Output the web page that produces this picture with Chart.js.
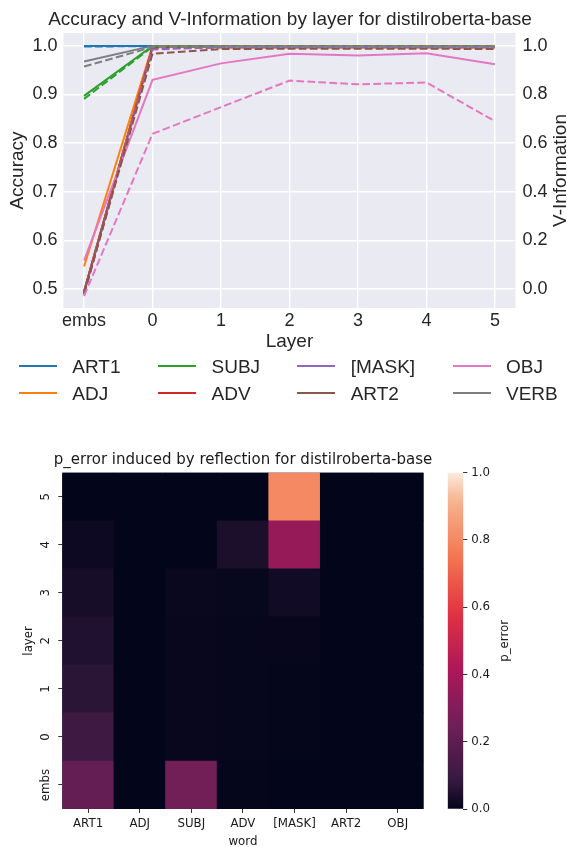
<!DOCTYPE html>
<html>
<head>
<meta charset="utf-8">
<script src="https://cdn.jsdelivr.net/npm/chart.js@4.4.1/dist/chart.umd.min.js"></script>
<style>
html,body{margin:0;padding:0;background:#ffffff;width:567px;height:847px;overflow:hidden;}
#wrap{position:relative;width:567px;height:847px;overflow:hidden;}
canvas{position:absolute;display:block;}
#cTop{left:0;top:0;}
#cHm{left:0;top:440px;}
#cCb{left:440px;top:440px;}
#legend{position:absolute;left:0;top:0;width:567px;height:847px;pointer-events:none;font-family:"Liberation Sans",Arial,sans-serif;font-size:19px;color:#262626;}
.lg-line{position:absolute;height:2px;width:38px;margin-top:-1px;}
.lg-text{position:absolute;white-space:nowrap;line-height:1;transform:translateY(-50%);}
</style>
</head>
<body>
<div id="wrap">
<canvas id="cTop" width="580" height="355"></canvas>
<canvas id="cHm" width="486" height="409"></canvas>
<canvas id="cCb" width="127" height="409"></canvas>
<div id="legend"></div>
</div>
<script>
// ---------------- DATA ----------------
const layers = ['embs', '0', '1', '2', '3', '4', '5'];
const words = ['ART1', 'ADJ', 'SUBJ', 'ADV', '[MASK]', 'ART2', 'OBJ', 'VERB'];

// Accuracy (left axis, solid lines), one value per layer
const accART1 = [1.000, 1.000, 1.000, 1.000, 1.000, 1.000, 1.000];
const accADJ  = [0.546, 1.000, 1.000, 1.000, 1.000, 1.000, 1.000];
const accSUBJ = [0.897, 1.000, 1.000, 1.000, 1.000, 1.000, 1.000];
const accADV  = [0.494, 0.999, 1.000, 1.000, 1.000, 1.000, 1.000];
const accMASK = [0.492, 0.998, 0.999, 0.999, 0.999, 0.999, 0.999];
const accART2 = [0.495, 0.997, 0.999, 0.999, 0.999, 0.999, 0.999];
const accOBJ  = [0.558, 0.930, 0.964, 0.984, 0.980, 0.985, 0.962];
const accVERB = [0.968, 1.000, 1.000, 1.000, 1.000, 1.000, 1.000];

// V-Information (right axis, dashed lines)
const viART1 = [0.997, 0.999, 0.999, 0.999, 0.999, 0.999, 0.999];
const viADJ  = [-0.020, 0.997, 0.998, 0.998, 0.998, 0.998, 0.998];
const viSUBJ = [0.782, 0.996, 0.998, 0.998, 0.998, 0.998, 0.998];
const viADV  = [-0.020, 0.990, 0.993, 0.993, 0.993, 0.993, 0.993];
const viMASK = [-0.025, 0.985, 0.995, 0.995, 0.995, 0.995, 0.995];
const viART2 = [-0.020, 0.968, 0.987, 0.988, 0.988, 0.988, 0.987];
const viOBJ  = [-0.030, 0.638, 0.748, 0.857, 0.842, 0.849, 0.690];
const viVERB = [0.915, 0.995, 0.997, 0.997, 0.997, 0.997, 0.997];

const leftTicks = [0.5, 0.6, 0.7, 0.8, 0.9, 1.0];
const rightTicks = [0.0, 0.2, 0.4, 0.6, 0.8, 1.0];

// Heatmap: p_error per word, per layer (embs, 0..5)
const heatWords = ['ART1', 'ADJ', 'SUBJ', 'ADV', '[MASK]', 'ART2', 'OBJ'];
const pErrART1 = [0.220, 0.110, 0.065, 0.050, 0.035, 0.018, 0.000];
const pErrADJ  = [0.000, 0.000, 0.000, 0.000, 0.000, 0.000, 0.000];
const pErrSUBJ = [0.255, 0.008, 0.008, 0.008, 0.012, 0.000, 0.000];
const pErrADV  = [0.003, 0.005, 0.005, 0.005, 0.007, 0.040, 0.000];
const pErrMASK = [0.000, 0.003, 0.004, 0.006, 0.025, 0.354, 0.800];
const pErrART2 = [0.000, 0.000, 0.000, 0.000, 0.000, 0.000, 0.000];
const pErrOBJ  = [0.000, 0.000, 0.000, 0.000, 0.000, 0.000, 0.000];
const cbTicks = [0.0, 0.2, 0.4, 0.6, 0.8, 1.0];

// ---------------- STYLE ----------------
const accList = [accART1, accADJ, accSUBJ, accADV, accMASK, accART2, accOBJ, accVERB];
const viList  = [viART1, viADJ, viSUBJ, viADV, viMASK, viART2, viOBJ, viVERB];
const pErrList = [pErrART1, pErrADJ, pErrSUBJ, pErrADV, pErrMASK, pErrART2, pErrOBJ];
const palette = ['#1f77b4', '#ff7f0e', '#2ca02c', '#d62728', '#9467bd', '#8c564b', '#e377c2', '#7f7f7f'];
const TOPFONT = '"Liberation Sans", Arial, sans-serif';
const HMFONT = '"DejaVu Sans", sans-serif';
const TXT = '#262626';
const HTXT = '#1a1a1a';

const ROCKET = [[0, '#03051A'], [0.0833, '#35193E'], [0.25, '#701F57'], [0.4167, '#AD1759'],
  [0.5833, '#E13342'], [0.75, '#F37651'], [0.9167, '#F6B48F'], [1, '#FAEBDD']];
function hex2rgb(h) { return [1, 3, 5].map(i => parseInt(h.substr(i, 2), 16)); }
function cmap(v) {
  v = Math.max(0, Math.min(1, v));
  for (let i = 1; i < ROCKET.length; i++) {
    if (v <= ROCKET[i][0]) {
      const p0 = ROCKET[i - 1][0], p1 = ROCKET[i][0];
      const a = hex2rgb(ROCKET[i - 1][1]), b = hex2rgb(ROCKET[i][1]);
      const t = (v - p0) / (p1 - p0);
      return 'rgb(' + a.map((x, k) => Math.round(x + (b[k] - x) * t)).join(',') + ')';
    }
  }
  return ROCKET[ROCKET.length - 1][1];
}

const areaBg = {
  id: 'areaBg',
  beforeDraw(chart, args, opts) {
    const a = chart.chartArea; const ctx = chart.ctx;
    ctx.save(); ctx.fillStyle = opts.color;
    ctx.fillRect(a.left, a.top, a.right - a.left, a.bottom - a.top);
    ctx.restore();
  }
};
const vtitle = {
  id: 'vtitle',
  afterDraw(chart, args, opts) {
    const a = chart.chartArea; const ctx = chart.ctx;
    ctx.save();
    ctx.translate(opts.x, (a.top + a.bottom) / 2);
    ctx.rotate(-Math.PI / 2);
    ctx.font = opts.font; ctx.fillStyle = opts.color;
    ctx.textAlign = 'center'; ctx.textBaseline = 'middle';
    ctx.fillText(opts.text, 0, 0);
    ctx.restore();
  }
};

// ---------------- TOP CHART ----------------
const datasets = [];
words.forEach((w, i) => {
  datasets.push({
    label: w, data: accList[i].map((v, j) => ({x: j - 1, y: v})), yAxisID: 'y',
    borderColor: palette[i], backgroundColor: palette[i], borderWidth: 2, pointRadius: 0,
    tension: 0, order: 100 - i
  });
  datasets.push({
    label: w + ' (V-Information)', data: viList[i].map((v, j) => ({x: j - 1, y: v})), yAxisID: 'y2',
    borderColor: palette[i], backgroundColor: palette[i], borderWidth: 2, pointRadius: 0,
    borderDash: [7.7, 3.3], tension: 0, order: 50 - i
  });
});

const tickFontTop = {family: TOPFONT, size: 18};
const labelFontTop = {family: TOPFONT, size: 19};
new Chart(document.getElementById('cTop'), {
  type: 'line',
  data: {datasets},
  options: {
    responsive: false, animation: false, events: [],
    layout: {padding: 0},
    plugins: {
      legend: {display: false}, tooltip: {enabled: false},
      title: {display: true, text: 'Accuracy and V-Information by layer for distilroberta-base',
        color: TXT, font: {family: TOPFONT, size: 19, weight: 'normal'}, padding: {top: 8.6, bottom: 1.6}},
      areaBg: {color: '#EAEAF2'},
      vtitle: {text: 'V-Information', x: 561, font: '19px ' + TOPFONT, color: TXT}
    },
    scales: {
      x: {
        type: 'linear', min: -1.3, max: 5.3,
        afterBuildTicks: s => { s.ticks = layers.map((l, i) => ({value: i - 1})); },
        ticks: {callback: v => layers[Math.round(v) + 1], color: TXT, font: tickFontTop, padding: 2, maxRotation: 0, autoSkip: false},
        grid: {color: '#ffffff', lineWidth: 1.4, drawTicks: false},
        border: {display: false},
        title: {display: true, text: 'Layer', color: TXT, font: labelFontTop, padding: {top: 0, bottom: 1.5}},
        afterFit: s => { s.height = 47; }
      },
      y: {
        position: 'left', min: 0.4605, max: 1.0265,
        afterBuildTicks: s => { s.ticks = leftTicks.map(v => ({value: v})); },
        ticks: {callback: v => v.toFixed(1), color: TXT, font: tickFontTop, padding: 6},
        grid: {color: '#ffffff', lineWidth: 1.4, drawTicks: false},
        border: {display: false},
        title: {display: true, text: 'Accuracy', color: TXT, font: labelFontTop, padding: {top: 6.6, bottom: 0}},
        afterFit: s => { s.width = 63.5; }
      },
      y2: {
        position: 'right', min: -0.079, max: 1.053,
        afterBuildTicks: s => { s.ticks = rightTicks.map(v => ({value: v})); },
        ticks: {callback: v => v.toFixed(1), color: TXT, font: tickFontTop, padding: 7},
        grid: {display: false, drawTicks: false},
        border: {display: false},
        afterFit: s => { s.width = 64.5; }
      }
    }
  },
  plugins: [areaBg, vtitle]
});

// HTML legend (column-major, 4 columns x 2 rows, like matplotlib ncol=4)
const lgLineX = [18.8, 158.4, 297.2, 453];
const lgTextX = [72.3, 211.5, 350.7, 506];
const lgRowY = [366, 392.7];
const lg = document.getElementById('legend');
words.forEach((w, k) => {
  const col = Math.floor(k / 2), row = k % 2;
  const ln = document.createElement('div');
  ln.className = 'lg-line';
  ln.style.left = lgLineX[col] + 'px'; ln.style.top = lgRowY[row] + 'px';
  ln.style.background = palette[k];
  lg.appendChild(ln);
  const tx = document.createElement('div');
  tx.className = 'lg-text';
  tx.style.left = lgTextX[col] + 'px'; tx.style.top = lgRowY[row] + 'px';
  tx.textContent = w;
  lg.appendChild(tx);
});

// ---------------- HEATMAP ----------------
const hmFont = {family: HMFONT, size: 11.8};
new Chart(document.getElementById('cHm'), {
  type: 'bar',
  data: {
    labels: heatWords,
    datasets: layers.map((l, r) => ({
      label: l,
      data: heatWords.map(() => [r, r + 1]),
      backgroundColor: pErrList.map(arr => cmap(arr[r])),
      borderWidth: 0, barPercentage: 1, categoryPercentage: 1, grouped: false
    }))
  },
  options: {
    responsive: false, animation: false, events: [],
    layout: {padding: 0},
    plugins: {
      legend: {display: false}, tooltip: {enabled: false},
      title: {display: true, text: 'p_error induced by reflection for distilroberta-base', color: HTXT,
        font: {family: HMFONT, size: 15, weight: 'normal'}, padding: {top: 11, bottom: 3.7}},
      areaBg: {color: cmap(0)}
    },
    scales: {
      x: {
        ticks: {color: HTXT, font: hmFont, padding: 4, autoSkip: false, maxRotation: 0},
        grid: {offset: false, drawOnChartArea: false, tickLength: 4, color: '#333', tickWidth: 1},
        border: {display: false},
        title: {display: true, text: 'word', color: HTXT, font: hmFont, padding: {top: 0, bottom: 0}},
        afterFit: s => { s.height = 40; }
      },
      y: {
        type: 'linear', min: 0, max: 7,
        afterBuildTicks: s => { s.ticks = layers.map((l, i) => ({value: i + 0.5})); },
        ticks: {callback: v => layers[Math.floor(v)], color: HTXT, font: hmFont, minRotation: 90, maxRotation: 90, crossAlign: 'center', padding: -4},
        grid: {drawOnChartArea: false, tickLength: 4, color: '#333', tickWidth: 1},
        border: {display: false},
        title: {display: true, text: 'layer', color: HTXT, font: hmFont, padding: {top: 22, bottom: 0}},
        afterFit: s => { s.width = 62.3; }
      },
      // empty spacer axis so the full-width title centres over the heatmap cells
      spacer: {
        type: 'linear', position: 'right', display: true,
        ticks: {display: false}, grid: {display: false}, border: {display: false},
        afterFit: s => { s.width = 62.5; }
      }
    }
  },
  plugins: [areaBg]
});

// ---------------- COLORBAR ----------------
new Chart(document.getElementById('cCb'), {
  type: 'bar',
  data: {
    labels: ['p_error'],
    datasets: [{
      data: [[0, 1]],
      backgroundColor: (c) => {
        const a = c.chart.chartArea;
        if (!a) return cmap(0.5);
        const g = c.chart.ctx.createLinearGradient(0, a.bottom, 0, a.top);
        for (let i = 0; i <= 40; i++) g.addColorStop(i / 40, cmap(i / 40));
        return g;
      },
      borderWidth: 0, barPercentage: 1, categoryPercentage: 1
    }]
  },
  options: {
    responsive: false, animation: false, events: [],
    layout: {padding: {left: 7.7, top: 32.7, bottom: 40, right: 0}},
    plugins: {
      legend: {display: false}, tooltip: {enabled: false},
      vtitle: {text: 'p_error', x: 65, font: '11.8px ' + HMFONT, color: HTXT}
    },
    scales: {
      x: {display: false},
      y: {
        position: 'right', min: 0, max: 1,
        afterBuildTicks: s => { s.ticks = cbTicks.map(v => ({value: v})); },
        ticks: {callback: v => v.toFixed(1), color: HTXT, font: hmFont, padding: 4},
        grid: {drawOnChartArea: false, tickLength: 4, color: '#333', tickWidth: 1},
        border: {display: false},
        afterFit: s => { s.width = 103.7; }
      }
    }
  },
  plugins: [vtitle]
});
</script>
</body>
</html>
